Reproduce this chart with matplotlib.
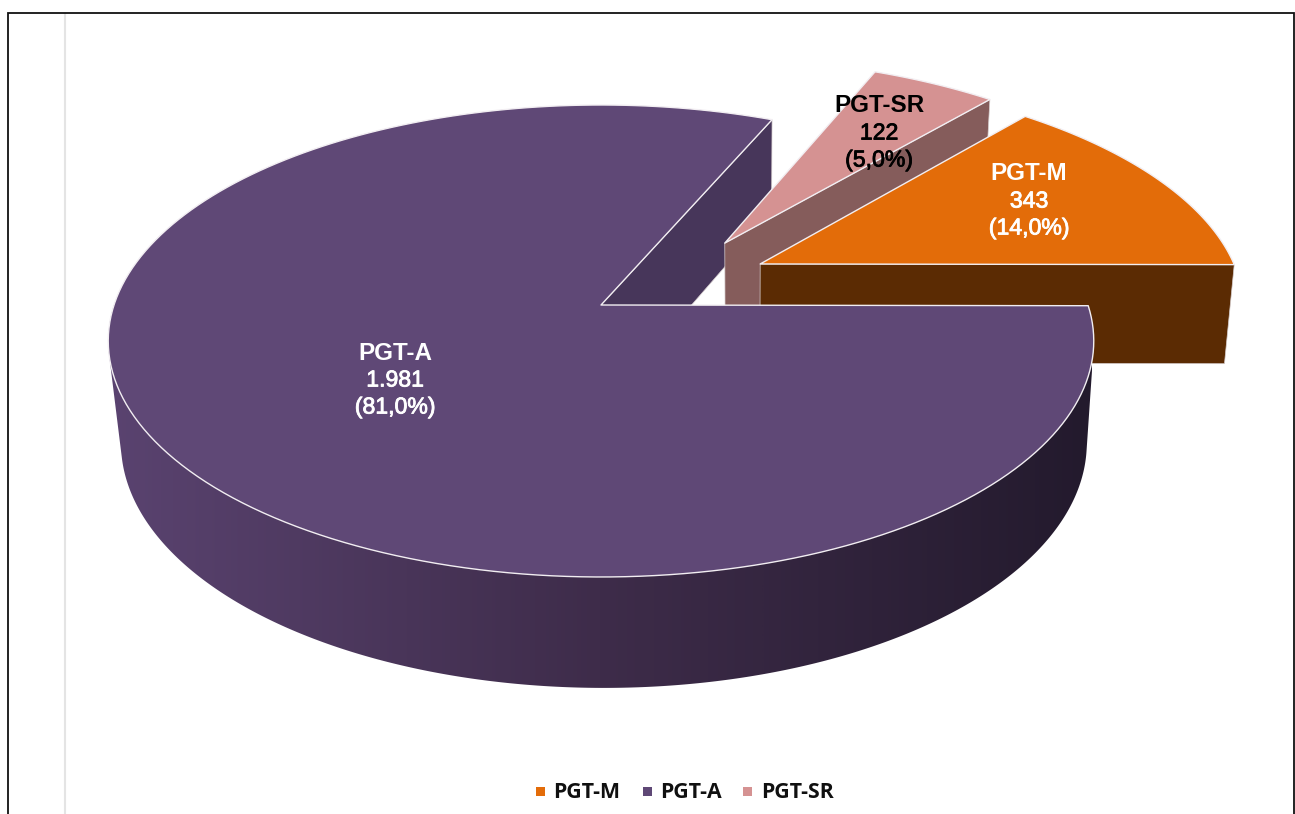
import numpy as np
import matplotlib
matplotlib.use("Agg")
import matplotlib.pyplot as plt
from matplotlib.patches import Polygon, Rectangle
from matplotlib.colors import LinearSegmentedColormap
import matplotlib.patheffects as pe

categories = ["PGT-M", "PGT-A", "PGT-SR"]
values = [343, 1981, 122]
value_labels = ["343", "1.981", "122"]
percent_labels = ["(14,0%)", "(81,0%)", "(5,0%)"]

# styles and layout
top_colors = ["#E36C09", "#5F4876", "#D59292"]
side_colors = ["#5B2B03", "#47365A", "#855C5B"]
text_colors = ["white", "white", "black"]
label_pos = [(1029, 174), (395, 353), (879, 106)]
legend_sq = [536, 643, 743]
legend_tx = [553, 660, 761]
explode = [(0.336, 0.183), (0.0, 0.0), (0.265, 0.280)]
START = 50.3
WARP = 2.0
CX, CY = 601.0, 305.0
A, B, K = 230.5, 487.0, 0.1525
DROP_CX, DEPTH_SX, DEPTH_SY, DEPTH_C = 745.0, 0.98, 1.038, 89.0

fig = plt.figure(figsize=(12.95, 8.14), dpi=100, facecolor="white")
ax = fig.add_axes([0, 0, 1, 1])


def project(x, y):
    w = 1 + K * y
    return CX + B * x / w, CY - A * y / w


def drop(X, Y):
    return DROP_CX + DEPTH_SX * (X - DROP_CX), DEPTH_SY * Y + DEPTH_C


def wedge(a0, a1, off, n=200):
    d = np.linspace(a0, a1, n)
    t = np.radians(d - WARP * np.sin(np.radians(d)))
    return project(off[0] + np.cos(t), off[1] + np.sin(t))


def hull(points):
    pts = sorted(set(map(tuple, points)))

    def half(seq):
        out = []
        for p in seq:
            while len(out) > 1 and (out[-1][0] - out[-2][0]) * (p[1] - out[-2][1]) \
                    - (out[-1][1] - out[-2][1]) * (p[0] - out[-2][0]) <= 0:
                out.pop()
            out.append(p)
        return out[:-1]

    return half(pts) + half(pts[::-1])


total = sum(values)
angles = []
s = START
for v in values:
    angles.append((s, s - 360 * v / total))
    s = angles[-1][1]


def draw_top(i, z):
    a0, a1 = angles[i]
    X, Y = wedge(a0, a1, explode[i])
    px, py = project(*explode[i])
    pts = np.column_stack([np.r_[px, X], np.r_[py, Y]])
    ax.add_patch(Polygon(pts, closed=True, fc=top_colors[i], ec="#f2eef2", lw=1.0,
                         joinstyle="round", zorder=z))


def draw_flat_side(i, ang, z):
    px, py = project(*explode[i])
    X, Y = wedge(ang, ang, explode[i], n=1)
    bx0, by0 = drop(px, py)
    bx1, by1 = drop(X[0], Y[0])
    pts = [(px, py), (X[0], Y[0]), (bx1, by1), (bx0, by0)]
    ax.add_patch(Polygon(pts, closed=True, fc=side_colors[i], ec="#d8d0d0", lw=0.5, zorder=z))


i_m = categories.index("PGT-M")
i_a = categories.index("PGT-A")
i_sr = categories.index("PGT-SR")

# inner face of PGT-A lies behind the two pulled-out slices
draw_flat_side(i_a, angles[i_a][1], 1.5)

draw_flat_side(i_sr, angles[i_sr][1], 2)
draw_top(i_sr, 3)

draw_flat_side(i_m, angles[i_m][1], 4)
draw_top(i_m, 5)

# rim of PGT-A with a left-to-right shading
X, Y = wedge(angles[i_a][0], angles[i_a][1], explode[i_a], n=800)
keep = Y > 304
X, Y = X[keep], Y[keep]
bX, bY = drop(X, Y)
outline = hull(np.column_stack([np.r_[X, bX], np.r_[Y, bY]]))
rim = Polygon(outline, closed=True, transform=ax.transData, fc="none", ec="none")
ax.add_patch(rim)
cmap = LinearSegmentedColormap.from_list("rim", ["#5A4370", "#3E2C4A", "#231A2D"])
im = ax.imshow(np.linspace(0, 1, 512).reshape(1, -1), cmap=cmap, aspect="auto",
               extent=(107, 1092, 700, 250), zorder=7, interpolation="bilinear")
im.set_clip_path(rim)
draw_top(i_a, 8)

# data labels
for i, (lx, ly) in enumerate(label_pos):
    col = text_colors[i]
    ax.text(lx, ly, categories[i], ha="center", va="center", color=col, zorder=10,
            family="Liberation Sans", fontweight="bold", fontsize=17.5)
    for k, t in enumerate([value_labels[i], percent_labels[i]]):
        ax.text(lx, ly + 27 * (k + 1), t, ha="center", va="center", color=col, zorder=10,
                family="Liberation Sans", fontsize=16.6,
                path_effects=[pe.withStroke(linewidth=0.6, foreground=col)])

# legend
for i, name in enumerate(categories):
    ax.add_patch(Rectangle((legend_sq[i], 787), 9, 9, fc=top_colors[i], ec="none", zorder=10))
    ax.text(legend_tx[i], 792.5, name, ha="left", va="center", color="#101010", zorder=10,
            family="Open Sans", fontweight="bold", fontsize=15.3)

# page frame
ax.plot([64.5, 64.5], [14, 814], color="#E4E4E4", lw=1.5, zorder=1)
ax.plot([8, 8, 1294, 1294], [814, 12.5, 12.5, 814], color="#111111", lw=1.3, zorder=1,
        solid_joinstyle="miter")

ax.set_xlim(0, 1295)
ax.set_ylim(814, 0)
ax.axis("off")

fig.savefig("out.png", dpi=100)
